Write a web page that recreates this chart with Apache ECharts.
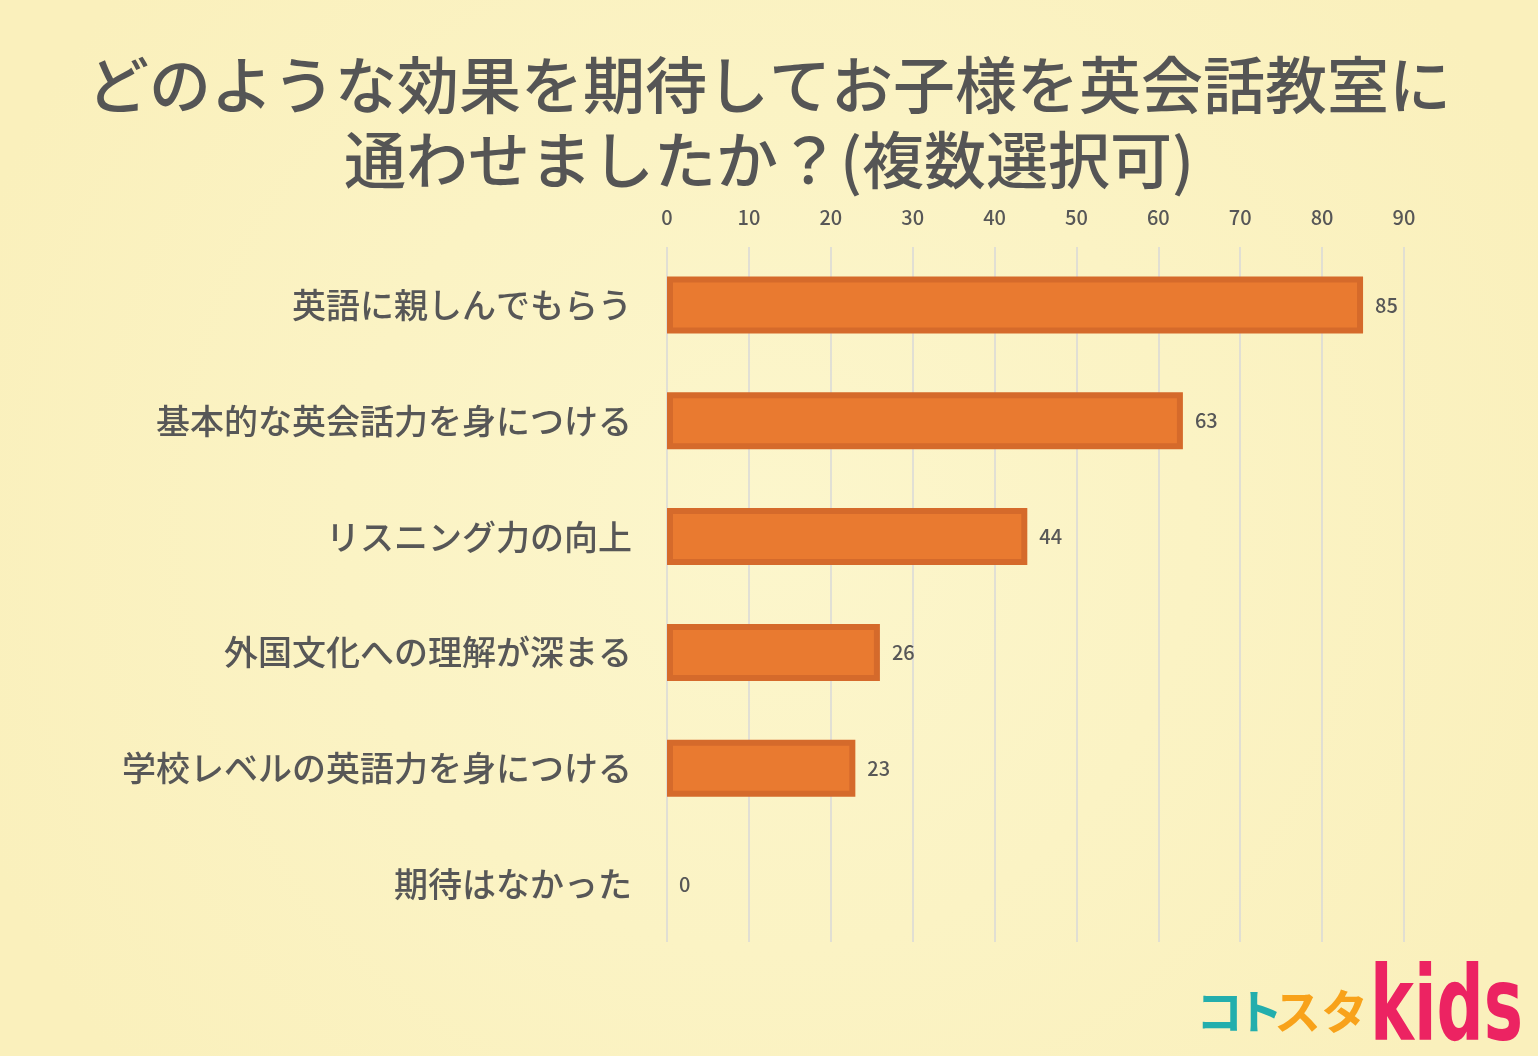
<!DOCTYPE html>
<html>
<head>
<meta charset="utf-8">
<script src="https://cdn.jsdelivr.net/npm/echarts@6/dist/echarts.min.js"></script>
<style>
html,body{margin:0;padding:0;background:#FBF2C0;}
#chart{width:1538px;height:1056px;}
</style>
</head>
<body>
<div id="chart"></div>
<script>
const titleLines = ['どのような効果を期待してお子様を英会話教室に', '通わせましたか？(複数選択可)'];
const categories = ['英語に親しんでもらう', '基本的な英会話力を身につける', 'リスニング力の向上', '外国文化への理解が深まる', '学校レベルの英語力を身につける', '期待はなかった'];
const values = [85, 63, 44, 26, 23, 0];
const axisTicks = [0, 10, 20, 30, 40, 50, 60, 70, 80, 90];

const FONT = '"Noto Sans CJK JP", "Noto Sans", sans-serif';
const TXT = '#575757';
const SH = 'rgba(130,120,80,0.35)';

const chart = echarts.init(document.getElementById('chart'), null, {renderer: 'canvas'});

const option = {
  backgroundColor: {
    type: 'radial', x: 0.5, y: 0.5, r: 0.8,
    colorStops: [{offset: 0, color: '#FCF6CC'}, {offset: 1, color: '#FAF0BC'}]
  },
  animation: false,
  graphic: [
    {
      type: 'text', left: 'center', top: 54,
      style: {text: titleLines[0], font: '500 62px ' + FONT, fill: '#555555'}
    },
    {
      type: 'text', left: 'center', top: 129,
      style: {text: titleLines[1], font: '500 62px ' + FONT, fill: '#555555'}
    },
    {type: 'text', x: 1196, y: 988, style: {text: 'コ', font: 'bold 47px ' + FONT, fill: '#23AEAD', textShadowColor: SH, textShadowOffsetX: 6, textShadowOffsetY: 6}},
    {type: 'text', x: 1236, y: 988, style: {text: 'ト', font: 'bold 47px ' + FONT, fill: '#23AEAD', textShadowColor: SH, textShadowOffsetX: 6, textShadowOffsetY: 6}},
    {type: 'text', x: 1274, y: 988, style: {text: 'スタ', font: 'bold 47px ' + FONT, fill: '#F8A21A', textShadowColor: SH, textShadowOffsetX: 6, textShadowOffsetY: 6}},
    {type: 'text', x: 1370, y: 962, scaleX: 0.66, scaleY: 1.03, originX: 0,
      style: {text: 'kids', font: 'bold 100px "DejaVu Sans", sans-serif', fill: '#EC2362', textShadowColor: SH, textShadowOffsetX: 8, textShadowOffsetY: 6}}
  ],
  grid: {left: 667, right: 134, top: 247, bottom: 114, containLabel: false},
  xAxis: {
    type: 'value', position: 'top', min: axisTicks[0], max: axisTicks[axisTicks.length - 1], interval: 10,
    axisLine: {show: false}, axisTick: {show: false},
    splitLine: {show: true, lineStyle: {color: '#D8D8D8', width: 1.5}},
    axisLabel: {color: TXT, fontSize: 20, fontFamily: FONT, fontWeight: 500, margin: 20}
  },
  yAxis: {
    type: 'category', inverse: true, data: categories,
    axisLine: {show: false}, axisTick: {show: false},
    axisLabel: {color: TXT, fontSize: 34, fontFamily: FONT, fontWeight: 500, margin: 35}
  },
  series: [{
    type: 'bar',
    data: values.map(v => v === 0 ? {value: v, itemStyle: {borderWidth: 0}} : v),
    barWidth: 57,
    itemStyle: {color: '#E97A30', borderColor: '#D56A2B', borderWidth: 6},
    label: {show: true, position: 'right', distance: 12, color: TXT, fontSize: 20, fontFamily: FONT, fontWeight: 500}
  }]
};
chart.setOption(option);
</script>
</body>
</html>
